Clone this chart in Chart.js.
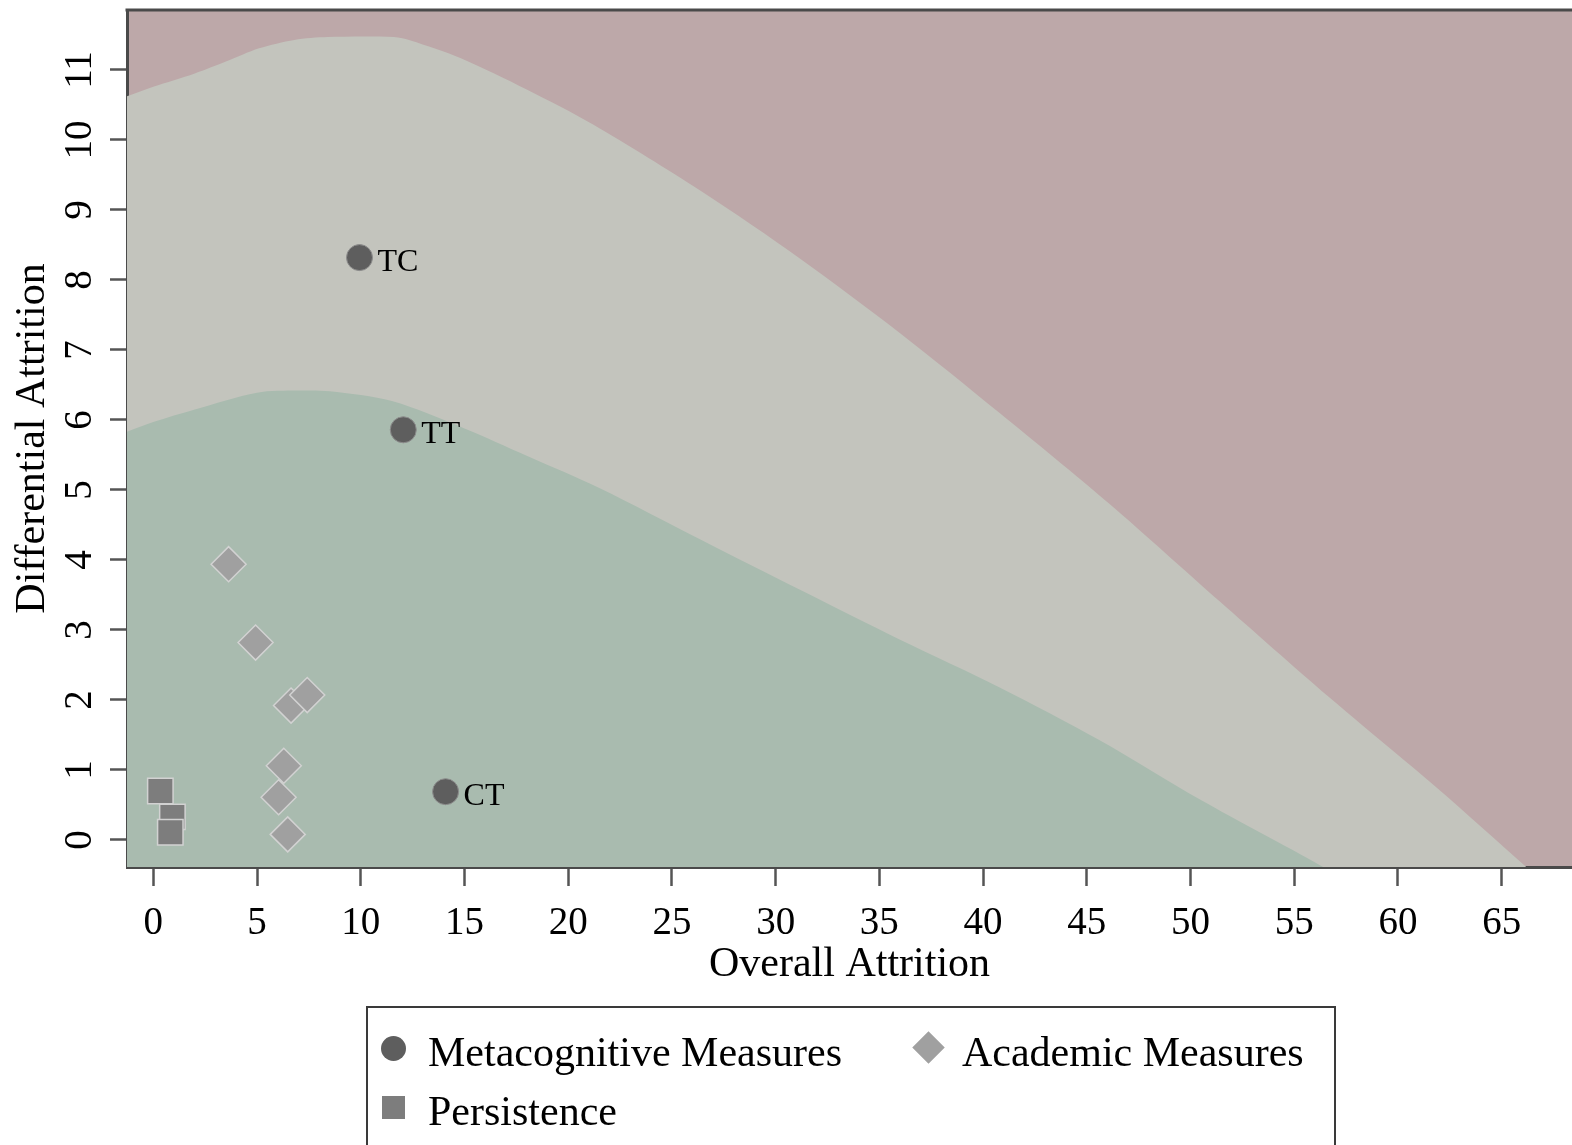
<!DOCTYPE html>
<html>
<head>
<meta charset="utf-8">
<script src="https://cdn.jsdelivr.net/npm/chart.js@4.4.1/dist/chart.umd.min.js"></script>
<style>
  body { margin: 0; background: #fff; }
  #wrap { position: relative; width: 1572px; height: 1145px; overflow: hidden; }
  canvas { position: absolute; left: 0; top: 0; }
  .legend-box { position: absolute; left: 366px; top: 1006px; width: 966px; height: 170px; border: 2px solid #3a3a3a; }
  .legend-text { position: absolute; font-family: "Liberation Serif", "Times New Roman", serif; font-size: 42px; line-height: 42px; white-space: nowrap; color: #000; }
  .mk { position: absolute; box-sizing: border-box; }
</style>
</head>
<body>
<div id="wrap">
  <canvas id="chart" width="1572" height="1145"></canvas>
  <div class="legend-box"></div>
</div>
<script>
// liberal boundary (gray band top) and conservative boundary (green band top)
const upperX = [-1.3, 0, 2, 3.5, 5.1, 6.8, 8.4, 11.6, 12.4, 14.8, 18, 21.2, 26.4, 31.2, 36, 40.8, 46.1, 51.4, 56.6, 61.9, 66.2, 67.5];
const upperY = [10.62, 10.76, 10.95, 11.12, 11.31, 11.43, 11.47, 11.47, 11.42, 11.17, 10.72, 10.22, 9.27, 8.3, 7.24, 6.1, 4.8, 3.41, 2.06, 0.74, -0.39, -0.73];
const lowerX = [-1.3, 0, 2, 5, 7, 8.5, 11.5, 15, 18, 21.5, 26.4, 31.2, 36, 40.8, 45.6, 50.5, 56.3, 57.5];
const lowerY = [5.83, 5.97, 6.15, 6.39, 6.42, 6.41, 6.27, 5.88, 5.49, 5.03, 4.29, 3.57, 2.86, 2.18, 1.43, 0.57, -0.37, -0.6];

// measures
const metaX = [9.94, 12.05, 14.09];
const metaY = [8.32, 5.86, 0.69];
const metaLabels = ["TC", "TT", "CT"];
const acadX = [3.63, 4.93, 6.64, 7.42, 6.29, 6.04, 6.48];
const acadY = [3.94, 2.82, 1.92, 2.07, 1.06, 0.61, 0.08];
const persX = [0.34, 0.92, 0.82];
const persY = [0.7, 0.33, 0.11];

const seriesNames = ["Metacognitive Measures", "Academic Measures", "Persistence"];
const xTicks = [0, 5, 10, 15, 20, 25, 30, 35, 40, 45, 50, 55, 60, 65];
const yTicks = [0, 1, 2, 3, 4, 5, 6, 7, 8, 9, 10, 11];

const PINK = "#bda8a9";
const GRAY = "#c3c4bd";
const GREEN = "#a9bbaf";
const FONT = '"Liberation Serif", "Times New Roman", serif';

// where the plot box sits in the reference
const AREA = { left: 127, top: 10, right: 1572, bottom: 867 };

const pts = (xs, ys) => xs.map((x, i) => ({ x: x, y: ys[i] }));
const noPad = () => ({ left: 0, top: 0, right: 0, bottom: 0 });

const plotFrame = {
  id: "plotFrame",
  beforeDraw(chart) {
    const { ctx, chartArea: a } = chart;
    ctx.save();
    ctx.fillStyle = PINK;
    ctx.fillRect(a.left, a.top, a.right - a.left, a.bottom - a.top);
    ctx.restore();
  },
  afterDraw(chart) {
    const { ctx, chartArea: a } = chart;
    ctx.save();
    ctx.strokeStyle = "#4a4a4a";
    ctx.lineWidth = 3;
    ctx.beginPath();
    ctx.moveTo(a.left - 1.5, a.top);
    ctx.lineTo(a.right, a.top);
    ctx.stroke();
    ctx.restore();
  },
};

const pointLabels = {
  id: "pointLabels",
  afterDatasetsDraw(chart) {
    const ctx = chart.ctx;
    const meta = chart.getDatasetMeta(2);
    ctx.save();
    ctx.font = "32px " + FONT;
    ctx.fillStyle = "#000";
    ctx.textAlign = "left";
    ctx.textBaseline = "middle";
    meta.data.forEach((p, i) => {
      ctx.fillText(metaLabels[i], p.x + 18, p.y + 5);
    });
    ctx.restore();
  },
};

const bandOpts = {
  showLine: true,
  pointRadius: 0,
  borderWidth: 0,
  borderColor: "rgba(0,0,0,0)",
  fill: "start",
  tension: 0.3,
};

const chart = new Chart(document.getElementById("chart"), {
  type: "scatter",
  data: {
    datasets: [
      Object.assign({ data: pts(upperX, upperY), backgroundColor: GRAY, order: 5 }, bandOpts),
      Object.assign({ data: pts(lowerX, lowerY), backgroundColor: GREEN, order: 4 }, bandOpts),
      {
        label: seriesNames[0],
        data: pts(metaX, metaY),
        pointStyle: "circle",
        pointRadius: 13,
        backgroundColor: "#5e5e5e",
        borderColor: "#8c8c8c",
        borderWidth: 1,
        order: 1,
      },
      {
        label: seriesNames[1],
        data: pts(acadX, acadY),
        pointStyle: "rectRot",
        pointRadius: 17.5,
        backgroundColor: "#a0a0a0",
        borderColor: "#d2d2d2",
        borderWidth: 1.5,
        order: 2,
      },
      {
        label: seriesNames[2],
        data: pts(persX, persY),
        pointStyle: "rect",
        pointRadius: 18,
        backgroundColor: "#7d7d7d",
        borderColor: "#d2d2d2",
        borderWidth: 1.5,
        order: 3,
      },
    ],
  },
  options: {
    responsive: false,
    animation: false,
    layout: { autoPadding: false, padding: { top: 10, left: 0, right: 0, bottom: 164 } },
    plugins: { legend: { display: false }, tooltip: { enabled: false } },
    scales: {
      x: {
        type: "linear",
        min: -1.268,
        max: 68.39,
        afterBuildTicks: (s) => { s.ticks = xTicks.map((v) => ({ value: v })); },
        afterFit: (s) => { s.paddingLeft = 0; s.paddingRight = 0; s.getPadding = noPad; },
        ticks: { font: { family: FONT, size: 39, lineHeight: 1 }, color: "#000", padding: 18 },
        grid: { drawOnChartArea: false, drawTicks: true, tickLength: 19, tickWidth: 2.5, tickColor: "#555" },
        border: { display: true, color: "#4a4a4a", width: 3 },
        title: { display: true, text: "Overall Attrition", color: "#000", font: { family: FONT, size: 42, lineHeight: 1 }, padding: { top: -17, bottom: 0 } },
      },
      y: {
        type: "linear",
        min: -0.386,
        max: 11.857,
        afterBuildTicks: (s) => { s.ticks = yTicks.map((v) => ({ value: v })); },
        afterFit: (s) => { s.width = 127; s.paddingTop = 0; s.paddingBottom = 0; s.getPadding = noPad; },
        ticks: { font: { family: FONT, size: 39, lineHeight: 1 }, color: "#000", padding: 10, minRotation: 90, maxRotation: 90, crossAlign: "center" },
        grid: { drawOnChartArea: false, drawTicks: true, tickLength: 17, tickWidth: 2.5, tickColor: "#555" },
        border: { display: true, color: "#4a4a4a", width: 3 },
        title: { display: true, text: "Differential Attrition", color: "#000", font: { family: FONT, size: 42, lineHeight: 1 }, padding: { top: 12, bottom: 0 } },
      },
    },
  },
  plugins: [plotFrame, pointLabels],
});

// nudge the layout padding until the plot box lands where it should
for (let k = 0; k < 3; k++) {
  const ca = chart.chartArea;
  const p = chart.options.layout.padding;
  if (Math.abs(AREA.top - ca.top) < 0.5 && Math.abs(AREA.right - ca.right) < 0.5 && Math.abs(AREA.bottom - ca.bottom) < 0.5) break;
  chart.options.layout.padding = {
    top: p.top + (AREA.top - ca.top),
    left: p.left,
    right: p.right - (AREA.right - ca.right),
    bottom: p.bottom - (AREA.bottom - ca.bottom),
  };
  chart.update();
}

// legend drawn as page elements
const wrap = document.getElementById("wrap");
const legendItems = [
  { name: seriesNames[0], mx: 393, my: 1048, text: 428, ty: 1031, shape: "circle", color: "#5e5e5e" },
  { name: seriesNames[1], mx: 928, my: 1047, text: 962, ty: 1031, shape: "diamond", color: "#a0a0a0" },
  { name: seriesNames[2], mx: 393, my: 1107, text: 428, ty: 1090, shape: "square", color: "#7d7d7d" },
];
legendItems.forEach((it) => {
  const m = document.createElement("div");
  m.className = "mk";
  let size = it.shape === "diamond" ? 23 : it.shape === "circle" ? 25 : 23;
  m.style.width = size + "px";
  m.style.height = size + "px";
  m.style.left = it.mx - size / 2 + "px";
  m.style.top = it.my - size / 2 + "px";
  m.style.background = it.color;
  if (it.shape === "circle") m.style.borderRadius = "50%";
  if (it.shape === "diamond") m.style.transform = "rotate(45deg)";
  wrap.appendChild(m);
  const t = document.createElement("div");
  t.className = "legend-text";
  t.style.left = it.text + "px";
  t.style.top = it.ty + "px";
  t.textContent = it.name;
  wrap.appendChild(t);
});
</script>
</body>
</html>
